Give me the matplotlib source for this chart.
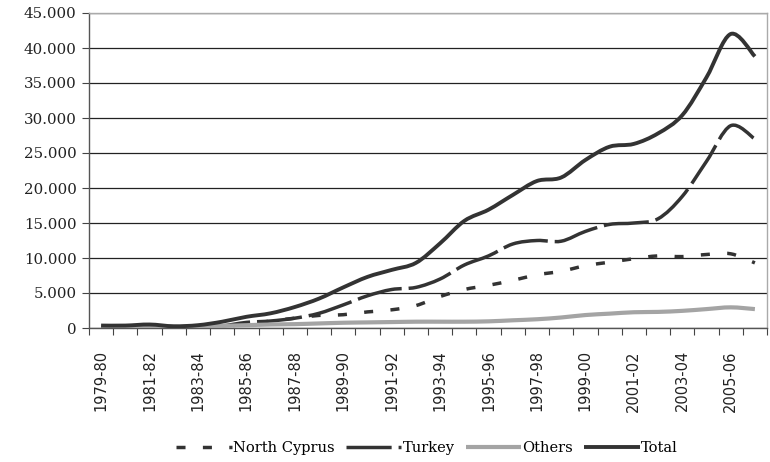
import numpy as np
import matplotlib
matplotlib.use("Agg")
import matplotlib.pyplot as plt
from matplotlib.path import Path
from matplotlib.patches import PathPatch
from matplotlib.lines import Line2D
from matplotlib.ticker import FuncFormatter

years = ["1979-80", "1980-81", "1981-82", "1982-83", "1983-84", "1984-85", "1985-86",
         "1986-87", "1987-88", "1988-89", "1989-90", "1990-91", "1991-92", "1992-93",
         "1993-94", "1994-95", "1995-96", "1996-97", "1997-98", "1998-99", "1999-00",
         "2000-01", "2001-02", "2002-03", "2003-04", "2004-05", "2005-06", "2006-07"]

north_cyprus = [100, 100, 150, 50, 100, 300, 500, 1000, 1400, 1800, 1900, 2300, 2600, 3200,
                4500, 5500, 6100, 6800, 7600, 8100, 8900, 9400, 9900, 10300, 10200, 10500,
                10600, 9300]
turkey = [100, 100, 150, 50, 100, 300, 800, 1000, 1400, 2100, 3300, 4600, 5500, 5800,
          7000, 9000, 10300, 12000, 12500, 12400, 13800, 14800, 15000, 15600, 18800, 23800,
          28900, 27000]
others = [150, 150, 200, 150, 200, 300, 400, 500, 550, 650, 750, 800, 850, 900,
          900, 900, 950, 1100, 1250, 1500, 1850, 2050, 2250, 2300, 2450, 2700, 2950, 2700]
total = [350, 350, 500, 250, 400, 900, 1600, 2100, 3000, 4200, 5800, 7300, 8300, 9300,
         12100, 15300, 16900, 19000, 21000, 21500, 24000, 25900, 26300, 27800, 30400, 35800,
         42000, 38800]


def smooth_path(x, y):
    # Excel-style smoothed line: cubic Bezier through every data point
    pts = np.column_stack([x, y]).astype(float)
    n = len(pts)
    verts = [pts[0]]
    codes = [Path.MOVETO]
    for i in range(n - 1):
        p0 = pts[i - 1] if i > 0 else pts[i]
        p1, p2 = pts[i], pts[i + 1]
        p3 = pts[i + 2] if i + 2 < n else pts[i + 1]
        verts += [p1 + (p2 - p0) / 6, p2 - (p3 - p1) / 6, p2]
        codes += [Path.CURVE4] * 3
    return Path(verts, codes)


fig = plt.figure(figsize=(7.7, 4.62), dpi=100)
ax = fig.add_axes([89 / 770, 1 - 328 / 462, (767 - 89) / 770, (328 - 13) / 462])

x = np.arange(len(years)) + 0.5
series = [
    ("North Cyprus", north_cyprus, dict(color="#333333", lw=2.5, ls=(0, (2.6, 5.0)))),
    ("Turkey", turkey, dict(color="#333333", lw=2.5, ls=(0, (13, 2.0)))),
    ("Others", others, dict(color="#a4a4a4", lw=3.0, ls="-")),
    ("Total", total, dict(color="#333333", lw=2.8, ls="-")),
]
handles = []
for name, vals, st in series:
    patch = PathPatch(smooth_path(x, vals), fill=False, edgecolor=st["color"],
                      lw=st["lw"], linestyle=st["ls"], capstyle="butt",
                      joinstyle="round", zorder=3)
    ax.add_patch(patch)
    handles.append(Line2D([], [], color=st["color"], lw=st["lw"], ls=st["ls"],
                          solid_capstyle="butt", dash_capstyle="butt"))

ax.set_xlim(0, len(years))
ax.set_ylim(0, 45000)
ax.set_yticks(np.arange(0, 45001, 5000))
ax.yaxis.set_major_formatter(FuncFormatter(lambda v, p: f"{int(v):,}".replace(",", ".")))
ax.grid(axis="y", color="#222222", lw=0.9, zorder=1)
ax.set_axisbelow(True)

ax.set_xticks(np.arange(0, len(years) + 1))
ax.set_xticklabels([])
ax.set_xticks(x[::2], minor=True)
ax.set_xticklabels(years[::2], minor=True, rotation=90, fontsize=10.5,
                   family="DejaVu Sans", color="#222222")
ax.tick_params(axis="x", which="major", length=5, color="#444444", direction="out")
ax.tick_params(axis="x", which="minor", length=0, pad=16)
ax.tick_params(axis="y", length=5, color="#444444", labelsize=10.8, pad=4,
               labelcolor="#222222")
for lab in ax.get_yticklabels():
    lab.set_family("DejaVu Serif")

for side in ("left", "bottom"):
    ax.spines[side].set_color("#555555")
    ax.spines[side].set_linewidth(1.0)
for side in ("top", "right"):
    ax.spines[side].set_color("#aaaaaa")
    ax.spines[side].set_linewidth(1.0)

fig.legend(handles, [s[0] for s in series], loc="center",
           bbox_to_anchor=(427 / 770, 1 - 448 / 462), ncol=4, frameon=False,
           handlelength=3.8, handletextpad=0.1, columnspacing=0.75,
           prop={"family": "DejaVu Serif", "size": 10.5})

fig.savefig("out.png", dpi=100)
